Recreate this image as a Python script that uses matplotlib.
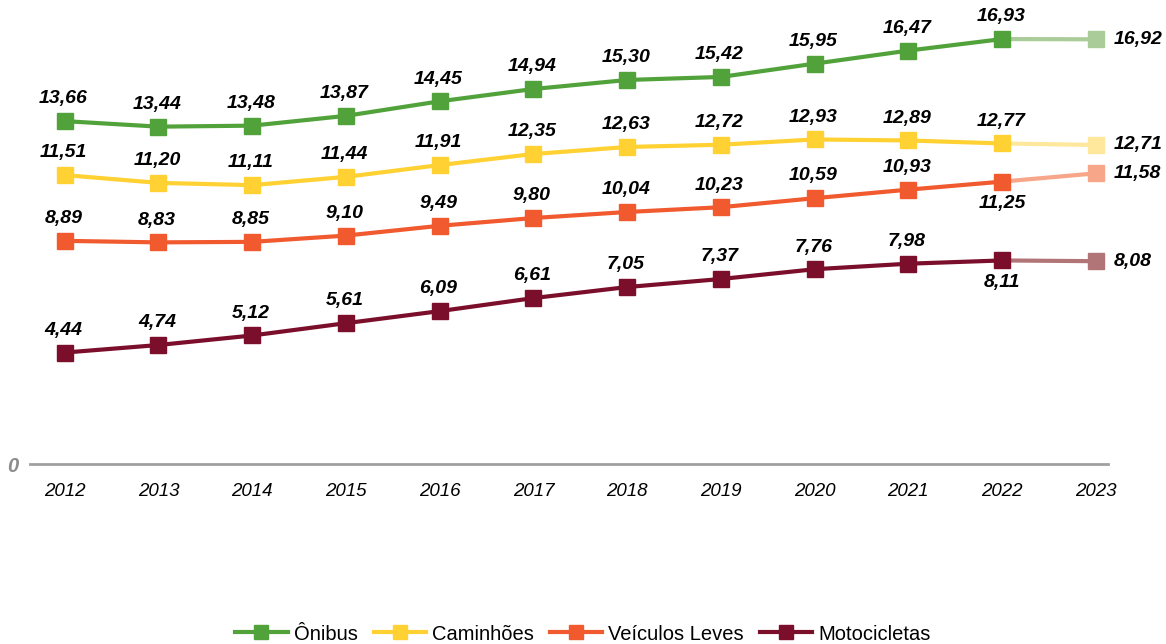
import matplotlib
matplotlib.use("Agg")
import matplotlib.pyplot as plt
from matplotlib.lines import Line2D

plt.rcParams['font.family'] = ['Liberation Sans', 'DejaVu Sans']

years = [2012, 2013, 2014, 2015, 2016, 2017, 2018, 2019, 2020, 2021, 2022, 2023]
year_labels = [str(y) for y in years]
onibus = [13.66, 13.44, 13.48, 13.87, 14.45, 14.94, 15.30, 15.42, 15.95, 16.47, 16.93, 16.92]
caminhoes = [11.51, 11.20, 11.11, 11.44, 11.91, 12.35, 12.63, 12.72, 12.93, 12.89, 12.77, 12.71]
leves = [8.89, 8.83, 8.85, 9.10, 9.49, 9.80, 10.04, 10.23, 10.59, 10.93, 11.25, 11.58]
motos = [4.44, 4.74, 5.12, 5.61, 6.09, 6.61, 7.05, 7.37, 7.76, 7.98, 8.11, 8.08]

series = [
    ("Ônibus", onibus, "#52A23C", "#A9CC98", {}),
    ("Caminhões", caminhoes, "#FFD133", "#FFE79C", {}),
    ("Veículos Leves", leves, "#F15A2F", "#F7A689", {10: "below"}),
    ("Motocicletas", motos, "#7B0F2B", "#B27577", {10: "below"}),
]

dpi = 100
fig = plt.figure(figsize=(11.66, 6.44), dpi=dpi)
y0 = 464
ax = fig.add_axes([30/1166, 1 - y0/644, (1108-30)/1166, (y0-20)/644])
ax.set_xlim(2011.63, 2023.13)
ax.set_ylim(0, (y0-20)/25.1)

def fmt(v):
    return f"{v:.2f}".replace(".", ",")

lab = dict(fontsize=14, fontweight='bold', fontstyle='italic', color='black')
handles = []
for name, vals, col, fcol, pos in series:
    ax.plot(years[:-1], vals[:-1], color=col, lw=3.0, marker='s', ms=12,
            markeredgecolor=col, solid_capstyle='round', zorder=3)
    ax.plot(years[-2:], vals[-2:], color=fcol, lw=3.0, zorder=2)
    ax.plot([years[-1]], [vals[-1]], color=fcol, marker='s', ms=12,
            linestyle='none', zorder=3)
    for i, (x, v) in enumerate(zip(years, vals)):
        if i == len(years) - 1:
            ax.annotate(fmt(v), (x, v), xytext=(13, 0), textcoords='offset points',
                        ha='left', va='center', **lab)
        elif pos.get(i) == "below":
            ax.annotate(fmt(v), (x, v), xytext=(0, -16), textcoords='offset points',
                        ha='center', va='center', **lab)
        else:
            ax.annotate(fmt(v), (x, v), xytext=(-1, 16), textcoords='offset points',
                        ha='center', va='center', **lab)
    handles.append(Line2D([0], [0], color=col, lw=3.0, marker='s', ms=10, label=name))

for s in ['top', 'right', 'left']:
    ax.spines[s].set_visible(False)
ax.spines['bottom'].set_color('#A0A0A0')
ax.spines['bottom'].set_linewidth(2)
ax.set_xticks(years)
ax.set_xticklabels(year_labels, fontsize=13.5, fontstyle='italic', color='black')
ax.tick_params(axis='x', length=0, pad=14)
ax.set_yticks([0])
ax.set_yticklabels(['0'], fontsize=14.5, fontweight='bold', fontstyle='italic', color='#8C8C8C')
ax.tick_params(axis='y', length=0, pad=8)

fig.legend(handles=handles, loc='center', bbox_to_anchor=(0.5, 1 - 634/644), ncol=4,
           frameon=False, fontsize=14.5, handlelength=2.6, columnspacing=0.8,
           handletextpad=0.3, borderaxespad=0)

fig.savefig("out.png", dpi=dpi)
